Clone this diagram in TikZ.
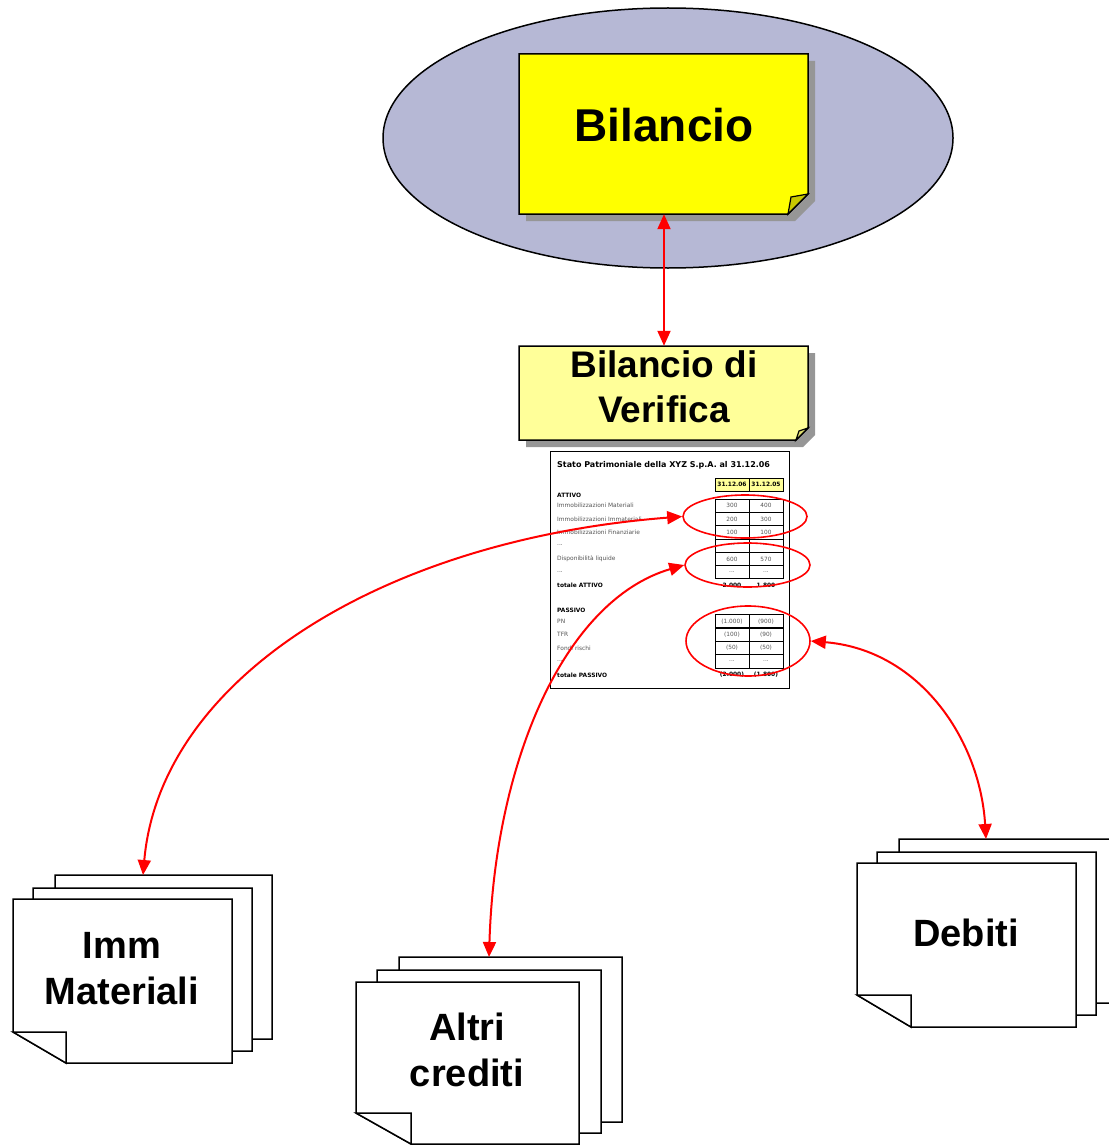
\documentclass[tikz,border=0pt]{standalone}
\usepackage{fontspec}
\setmainfont{Liberation Sans}
\newfontfamily\tabfont{DejaVu Sans}
\usetikzlibrary{arrows.meta,shapes.geometric}
\definecolor{ellfill}{HTML}{B6B8D5}
\definecolor{pureyel}{HTML}{FFFF00}
\definecolor{paleyel}{HTML}{FFFF99}
\definecolor{shad}{HTML}{969696}
\definecolor{flapA}{HTML}{C8C800}
\definecolor{flapB}{HTML}{E0E070}
\definecolor{lblgray}{HTML}{555555}
\newcommand{\tdots}{...}
\begin{document}
\begin{tikzpicture}[x=1pt,y=-1pt,
  big/.style={font=\bfseries\fontsize{38}{46}\selectfont, align=center, inner sep=0pt},
  link/.style={draw=red, line width=2pt, {Triangle[length=15pt,width=13pt,fill=red]}-{Triangle[length=15pt,width=13pt,fill=red]}},
  page/.style={draw=black, fill=white, line width=1.5pt, line join=miter},
  notebox/.style={draw=black, line width=1.5pt, line join=miter},
  ring/.style={ellipse, draw=red, line width=1.6pt, inner sep=0pt},
  cell/.style={draw=black, line width=0.8pt, minimum width=34pt, minimum height=13.3pt, inner sep=0pt, font=\tabfont\fontsize{5.8}{7}\selectfont, text=lblgray},
  hcell/.style={draw=black, line width=0.8pt, fill=paleyel, minimum width=34pt, minimum height=13pt, inner sep=0pt, font=\tabfont\bfseries\fontsize{5.9}{7}\selectfont},
  lbl/.style={anchor=west, inner sep=0pt, font=\tabfont\fontsize{5.9}{7}\selectfont, text=lblgray},
  hd/.style={anchor=west, inner sep=0pt, font=\tabfont\bfseries\fontsize{5.9}{7}\selectfont},
  tot/.style={inner sep=0pt, font=\tabfont\bfseries\fontsize{5.9}{7}\selectfont}
]
\useasboundingbox (0,0) rectangle (1108,1145);

% big ellipse
\node (ell) [ellipse, draw=black, line width=1.5pt, fill=ellfill, minimum width=570pt, minimum height=260pt, inner sep=0pt] at (668,138) {};

% Bilancio note
\fill[shad] (526,61) -- (815,61) -- (815,201) -- (795,221) -- (526,221) -- cycle;
\draw[notebox, fill=pureyel] (519,54) -- (808,54) -- (808,194) -- (788,214) -- (519,214) -- cycle;
\draw[notebox, fill=flapA, line width=1.2pt] (808,194) -- (791,197) -- (788,214) -- cycle;
\node (bil) [minimum width=290pt, minimum height=160pt, inner sep=0pt] at (664,134) {};
\node (biltxt) [anchor=base, inner sep=0pt, font=\bfseries\fontsize{46}{50}\selectfont] at (664,142) {Bilancio};

% Bilancio di Verifica note
\fill[shad] (526,353) -- (815,353) -- (815,435) -- (803,447) -- (526,447) -- cycle;
\draw[notebox, fill=paleyel] (519,346) -- (808,346) -- (808,428) -- (796,440) -- (519,440) -- cycle;
\draw[notebox, fill=flapB, line width=1.2pt] (808,428) -- (799,431) -- (796,440) -- cycle;
\node (ver) [minimum width=290pt, minimum height=94pt, inner sep=0pt] at (664,393) {};
\node (vertxt) [inner sep=0pt, align=center, font=\bfseries\fontsize{37}{45}\selectfont] at (664,387) {Bilancio di\\Verifica};

\draw[link] (bil.south) -- (ver.north);

% table
\node (tab) [draw=black, line width=0.9pt, fill=white, minimum width=239pt, minimum height=237pt, inner sep=0pt] at (669.5,569.5) {};
\node (title) [anchor=west, inner sep=0pt, font=\tabfont\bfseries\fontsize{8}{9}\selectfont] at (557,465) {Stato Patrimoniale della XYZ S.p.A. al 31.12.06};
\node (h1) [hcell] at (732,484.5) {31.12.06};
\node (h2) [hcell] at (766,484.5) {31.12.05};
\node (att) [hd] at (557,495.5) {ATTIVO};
\foreach \y/\l/\a/\b [count=\i] in {505.7/Immobilizzazioni Materiali/300/400, 519/Immobilizzazioni Immateriali/200/300, 532.3/Immobilizzazioni Finanziarie/100/100, 545.6/\tdots/\tdots/\tdots, 558.9/Disponibilità liquide/600/570, 572.2/\tdots/\tdots/\tdots}{
  \node (al\i) [lbl] at (557,\y) {\l};
  \node (aa\i) [cell] at (732,\y) {\a};
  \node (ab\i) [cell] at (766,\y) {\b};
}
\node (tatt) [hd] at (557,585.5) {totale ATTIVO};
\node (tatta) [tot] at (732,585.5) {2.000};
\node (tattb) [tot] at (766,585.5) {1.800};
\node (pas) [hd] at (557,610.5) {PASSIVO};
\foreach \y/\l/\a/\b [count=\i] in {621.2/PN/(1.000)/(900), 634.6/TFR/(100)/(90), 648/Fondi rischi/(50)/(50), 661.4/\tdots/\tdots/\tdots}{
  \node (pl\i) [lbl] at (557,\y) {\l};
  \node (pa\i) [cell] at (732,\y) {\a};
  \node (pb\i) [cell] at (766,\y) {\b};
}
\node (tpas) [hd] at (557,675) {totale PASSIVO};
\node (tpasa) [tot] at (732,675) {(2.000)};
\node (tpasb) [tot] at (766,675) {(1.800)};

% red rings
\node (r1) [ring, minimum width=124pt, minimum height=43pt] at (745,516.5) {};
\node (r2) [ring, minimum width=125pt, minimum height=44pt] at (747.5,565) {};
\node (r3) [ring, minimum width=124pt, minimum height=70pt] at (748,641) {};

% stack: Imm Materiali
\draw[page] (55,875) -- (272,875) -- (272,1039) -- (108,1039) -- (55,1008) -- cycle;
\draw[page] (33,888) -- (252,888) -- (252,1051) -- (86,1051) -- (33,1020) -- cycle;
\draw[page] (13,899) -- (232,899) -- (232,1063) -- (66,1063) -- (13,1032) -- cycle;
\draw[page] (13,1032) -- (66,1032) -- (66,1063) -- cycle;
\node (imm) [big] at (122,969) {Imm\\Materiali};
\coordinate (immtop) at (143,875);

% stack: Altri crediti
\draw[page] (399,957) -- (622,957) -- (622,1122) -- (454,1122) -- (399,1091) -- cycle;
\draw[page] (377,970) -- (601,970) -- (601,1133) -- (432,1133) -- (377,1102) -- cycle;
\draw[page] (356,982) -- (579,982) -- (579,1144) -- (411,1144) -- (356,1113) -- cycle;
\draw[page] (356,1113) -- (411,1113) -- (411,1144) -- cycle;
\node (alt) [big] at (467,1050) {Altri\\crediti};
\coordinate (alttop) at (489,957);

% stack: Debiti
\draw[page] (899,839) -- (1120,839) -- (1120,1003) -- (953,1003) -- (899,971) -- cycle;
\draw[page] (877,852) -- (1096,852) -- (1096,1015) -- (931,1015) -- (877,983) -- cycle;
\draw[page] (857,863) -- (1076,863) -- (1076,1027) -- (911,1027) -- (857,995) -- cycle;
\draw[page] (857,995) -- (911,995) -- (911,1027) -- cycle;
\node (deb) [big, anchor=base] at (966,946) {Debiti};
\coordinate (debtop) at (986,839);

% connectors
\draw[link] (immtop) .. controls (160,680) and (380,540) .. (r1.west);
\draw[link] (alttop) .. controls (495,760) and (565,600) .. (r2.west);
\draw[link] (r3.east) .. controls (920,650) and (980,740) .. (debtop);
\end{tikzpicture}
\end{document}
